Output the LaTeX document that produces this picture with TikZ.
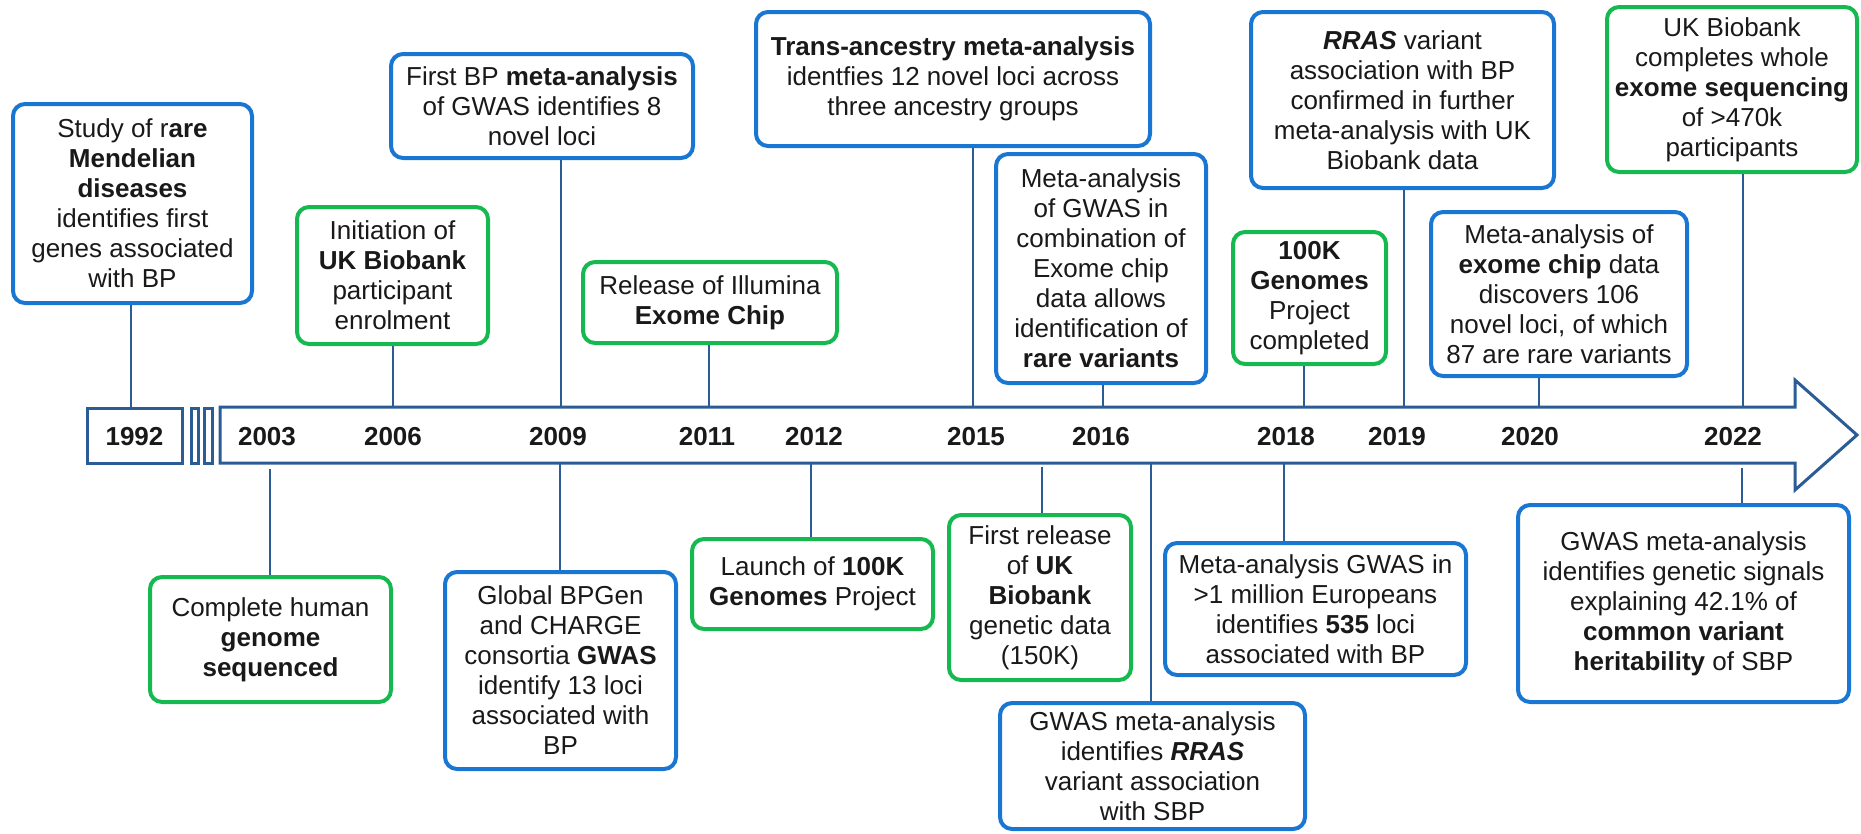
\documentclass[tikz,border=0pt]{standalone}
\usepackage{fontspec}
\setmainfont{Liberation Sans}
\definecolor{boxblue}{RGB}{25,118,210}
\definecolor{boxgreen}{RGB}{22,185,80}
\definecolor{barblue}{RGB}{43,92,150}
\definecolor{txt}{RGB}{25,25,25}

\begin{document}
\begin{tikzpicture}[x=1pt, y=-1pt,
    bluebox/.style={draw=boxblue, line width=4pt, rounded corners=12pt, fill=white, align=center, inner sep=2pt, text=txt, font=\fontsize{26}{30}\selectfont},
    greenbox/.style={bluebox, draw=boxgreen},
    yearlabel/.style={text=txt, font=\bfseries\fontsize{26}{30}\selectfont},
    link/.style={draw=barblue, line width=2.5pt},
    barline/.style={draw=barblue, line width=3pt}]

    \useasboundingbox (0,0) rectangle (1861,833);

    % timeline bar
    \draw[barline, fill=white] (220,407) -- (1795,407) -- (1795,380) -- (1857,435) -- (1795,490) -- (1795,463) -- (220,463) -- cycle;
    \draw[barline] (87,408) rectangle (182,463);
    \draw[barline] (191,408) rectangle (198,463);
    \draw[barline] (204,408) rectangle (212,463);

    % years
    \node[yearlabel] (y1992) at (134.5,437) {1992};
    \node[yearlabel] (y2003) at (267,437) {2003};
    \node[yearlabel] (y2006) at (393,437) {2006};
    \node[yearlabel] (y2009) at (558,437) {2009};
    \node[yearlabel] (y2011) at (707,437) {2011};
    \node[yearlabel] (y2012) at (814,437) {2012};
    \node[yearlabel] (y2015) at (976,437) {2015};
    \node[yearlabel] (y2016) at (1101,437) {2016};
    \node[yearlabel] (y2018) at (1286,437) {2018};
    \node[yearlabel] (y2019) at (1397,437) {2019};
    \node[yearlabel] (y2020) at (1530,437) {2020};
    \node[yearlabel] (y2022) at (1733,437) {2022};

    % events above the bar
    \node[bluebox, minimum width=239pt, minimum height=199pt] (e1) at (132.5,203.5) {Study of r\textbf{are}\\ \textbf{Mendelian}\\ \textbf{diseases}\\ identifies first\\ genes associated\\ with BP};
    \node[greenbox, minimum width=191pt, minimum height=137pt] (e2) at (392.5,275.5) {Initiation of\\ \textbf{UK Biobank}\\ participant\\ enrolment};
    \node[bluebox, minimum width=302pt, minimum height=104pt] (e3) at (542,106) {First BP \textbf{meta-analysis}\\ of GWAS identifies 8\\ novel loci};
    \node[greenbox, minimum width=254pt, minimum height=81pt] (e4) at (710,302.5) {Release of Illumina\\ \textbf{Exome Chip}};
    \node[bluebox, minimum width=394pt, minimum height=134pt] (e5) at (953,79) {\textbf{Trans-ancestry meta-analysis}\\ identfies 12 novel loci across\\ three ancestry groups};
    \node[bluebox, minimum width=210pt, minimum height=229pt] (e6) at (1101,268.5) {Meta-analysis\\ of GWAS in\\ combination of\\ Exome chip\\ data allows\\ identification of\\ \textbf{rare variants}};
    \node[greenbox, minimum width=153pt, minimum height=132pt] (e7) at (1309.5,298) {\textbf{100K}\\ \textbf{Genomes}\\ Project\\ completed};
    \node[bluebox, minimum width=303pt, minimum height=176pt] (e8) at (1402.5,100) {\textbf{\textit{RRAS}} variant\\ association with BP\\ confirmed in further\\ meta-analysis with UK\\ Biobank data};
    \node[bluebox, minimum width=256pt, minimum height=164pt] (e9) at (1559,294) {Meta-analysis of\\ \textbf{exome chip} data\\ discovers 106\\ novel loci, of which\\ 87 are rare variants};
    \node[greenbox, minimum width=250pt, minimum height=165pt] (e10) at (1732,89.5) {UK Biobank\\ completes whole\\ \textbf{exome sequencing}\\ of >470k\\ participants};

    % events below the bar
    \node[greenbox, minimum width=241pt, minimum height=125pt] (e11) at (270.5,639.5) {Complete human\\ \textbf{genome}\\ \textbf{sequenced}};
    \node[bluebox, minimum width=231pt, minimum height=197pt] (e12) at (560.5,670.5) {Global BPGen\\ and CHARGE\\ consortia \textbf{GWAS}\\ identify 13 loci\\ associated with\\ BP};
    \node[greenbox, minimum width=241pt, minimum height=90pt] (e13) at (812.5,584) {Launch of \textbf{100K}\\ \textbf{Genomes} Project};
    \node[greenbox, minimum width=182pt, minimum height=165pt] (e14) at (1040,597.5) {First release\\ of \textbf{UK}\\ \textbf{Biobank}\\ genetic data\\ (150K)};
    \node[bluebox, minimum width=305pt, minimum height=126pt] (e15) at (1152.5,766) {GWAS meta-analysis\\ identifies \textbf{\textit{RRAS}}\\ variant association\\ with SBP};
    \node[bluebox, minimum width=301pt, minimum height=132pt] (e16) at (1315.5,609) {Meta-analysis GWAS in\\ >1 million Europeans\\ identifies \textbf{535} loci\\ associated with BP};
    \node[bluebox, minimum width=331pt, minimum height=197pt] (e17) at (1683.5,603.5) {GWAS meta-analysis\\ identifies genetic signals\\ explaining 42.1\% of\\ \textbf{common variant}\\ \textbf{heritability} of SBP};

    % connectors
    \coordinate (p1) at (131,407);
    \coordinate (p2) at (393,407);
    \coordinate (p3) at (561,407);
    \coordinate (p4) at (709,407);
    \coordinate (p5) at (973,407);
    \coordinate (p6) at (1103,407);
    \coordinate (p7) at (1304,407);
    \coordinate (p8) at (1404,407);
    \coordinate (p9) at (1539,407);
    \coordinate (p10) at (1743,407);
    \coordinate (p11) at (270,469);
    \coordinate (p12) at (560,463);
    \coordinate (p13) at (811,463);
    \coordinate (p14) at (1042,467);
    \coordinate (p15) at (1151,463);
    \coordinate (p16) at (1284,463);
    \coordinate (p17) at (1742,468);
    \foreach \i in {1,...,10} {
        \draw[link] (p\i) -- (p\i |- e\i.south);
    }
    \foreach \i in {11,...,17} {
        \draw[link] (p\i) -- (p\i |- e\i.north);
    }

\end{tikzpicture}
\end{document}
